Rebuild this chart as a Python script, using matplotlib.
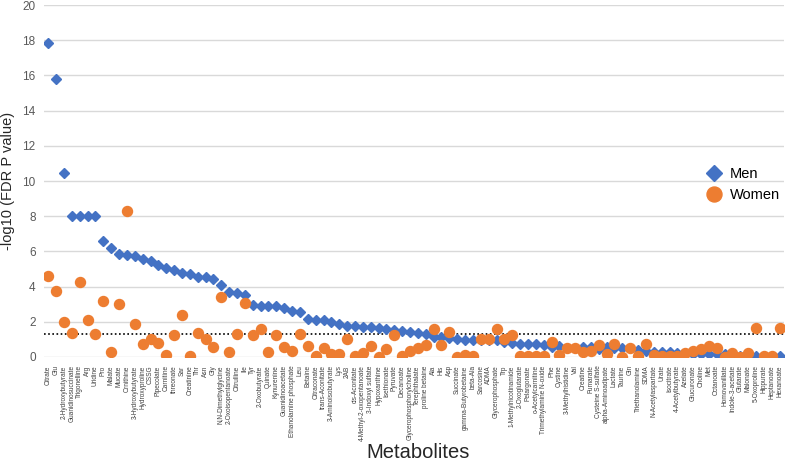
import matplotlib
matplotlib.use("Agg")
import matplotlib.pyplot as plt

plt.rcParams['font.family'] = ['Liberation Sans', 'DejaVu Sans']

metabolites = [
    "Citrate", "Glu", "2-Hydroxybutyrate", "Guanidinosuccinate", "Trigonelline", "Arg",
    "Uridine", "Pro", "Malate", "Mucate", "Ornithine", "3-Hydroxybutyrate",
    "Hydroxyproline", "CSSG", "Pipecolate", "Carnitine", "threonate", "Sar",
    "Creatinine", "Thr", "Asn", "Gly", "N,N-Dimethylglycine", "2-Oxoisopentanoate",
    "Citrulline", "Ile", "Tyr", "2-Oxobutyrate", "Quinate", "Kynurenine",
    "Guanidinoacetate", "Ethanolamine phosphate", "Leu", "Betaine", "Citraconate",
    "trans-Aconitate", "3-Aminoisobutyrate", "Lys", "2AB", "cis-Aconitate",
    "4-Methyl-2-oxopentanoate", "3-Indoxyl sulfate", "Hypoxanthine", "Isethionate",
    "Pyruvate", "Decanoate", "Glycerophosphorylcholine", "Terephthalate",
    "proline betaine", "Ala", "His", "Asp", "Succinate", "gamma-Butyrobetaine",
    "beta-Ala", "Sarcosine", "ADMA", "Glycerophosphate", "Trp", "1-Methylnicotinamide",
    "2-Oxoglutarate", "Pelargonate", "o-Acetylcarnitine", "Trimethylamine N-oxide",
    "Phe", "Cystine", "3-Methylhistidine", "Val", "Creatine", "Fumarate",
    "Cysteine S-sulfate", "alpha-Aminoadipate", "Lactate", "Taurine", "Gln",
    "Triethanolamine", "SDMA", "N-Acetylaspartate", "Urate", "Isocitrate",
    "4-Acetylbutyrate", "Azelate", "Glucuronate", "Choline", "Met", "Octanoate",
    "Homovanillate", "Indole-3-acetate", "Glutarate", "Malonate", "5-Oxoproline",
    "Hippurate", "Heptanoate", "Hexanoate",
]

men = [
    17.85, 15.78, 10.45, 8.0, 8.0, 8.0, 8.0, 6.6, 6.21, 5.83, 5.78, 5.76,
    5.55, 5.45, 5.23, 5.06, 4.96, 4.75, 4.72, 4.56, 4.53, 4.41, 4.07, 3.69,
    3.62, 3.52, 2.94, 2.92, 2.92, 2.88, 2.78, 2.61, 2.56, 2.14, 2.12, 2.10,
    2.01, 1.89, 1.78, 1.76, 1.69, 1.69, 1.63, 1.59, 1.55, 1.48, 1.42, 1.34,
    1.31, 1.14, 1.12, 1.06, 1.02, 0.98, 0.97, 0.98, 0.98, 0.97, 0.85, 0.81,
    0.74, 0.74, 0.72, 0.70, 0.59, 0.64, 0.53, 0.53, 0.55, 0.55, 0.45, 0.55,
    0.49, 0.49, 0.53, 0.42, 0.34, 0.30, 0.30, 0.27, 0.23, 0.21, 0.19, 0.17,
    0.15, 0.15, 0.15, 0.08, 0.08, 0.05, 0.04, 0.04, 0.04, 0.03,
]

women = [
    4.60, 3.73, 1.97, 1.38, 4.24, 2.08, 1.31, 3.16, 0.30, 3.03, 8.31, 1.88,
    0.72, 1.00, 0.78, 0.09, 1.25, 2.37, 0.04, 1.38, 1.02, 0.57, 3.39, 0.27,
    1.29, 3.05, 1.23, 1.61, 0.30, 1.23, 0.55, 0.34, 1.33, 0.63, 0.04, 0.53,
    0.19, 0.15, 1.04, 0.08, 0.25, 0.61, 0.02, 0.47, 1.27, 0.08, 0.34, 0.53,
    0.66, 1.59, 0.66, 1.40, 0.0, 0.09, 0.04, 1.02, 1.02, 1.59, 1.02, 1.27,
    0.08, 0.08, 0.07, 0.03, 0.84, 0.11, 0.53, 0.53, 0.30, 0.34, 0.69, 0.15,
    0.75, 0.02, 0.50, 0.06, 0.74, 0.10, 0.08, 0.08, 0.08, 0.24, 0.35, 0.44,
    0.62, 0.53, 0.0, 0.23, 0.0, 0.23, 1.65, 0.07, 0.07, 1.65,
]

threshold = 1.3

fig = plt.figure(figsize=(7.91, 4.63), dpi=100)
ax = fig.add_axes([0.0556, 0.229, 0.935, 0.760])

x = list(range(len(metabolites)))
ax.plot(x, men, linestyle='none', marker='D', markersize=5.6,
        color='#4472C4', label='Men', zorder=3)
ax.plot(x, women, linestyle='none', marker='o', markersize=7.2,
        color='#ED7D31', label='Women', zorder=3)
ax.axhline(threshold, color='black', linestyle=(0, (1, 1.5)), linewidth=1.2, zorder=2)

ax.set_xlim(-0.55, 93.5)
ax.set_ylim(0, 20)
ax.set_yticks(range(0, 21, 2))
ax.yaxis.grid(True, color='#D9D9D9', linewidth=1)
ax.set_axisbelow(True)
for s in ax.spines.values():
    s.set_visible(False)

ax.set_xticks(x)
ax.set_xticklabels(metabolites, rotation=90, fontsize=4.7, color='#404040')
ax.tick_params(axis='both', length=0)
ax.tick_params(axis='x', pad=6)
ax.tick_params(axis='y', labelsize=8.5, labelcolor='#595959', pad=6)

ax.set_ylabel('-log10 (FDR P value)', fontsize=10.5, color='#262626', labelpad=5)
fig.text(0.528, 0.01, 'Metabolites', fontsize=14.5, ha='center', va='baseline', color='#262626')

ax.legend(loc='center left', bbox_to_anchor=(0.878, 0.49), frameon=False,
          fontsize=10.5, markerscale=1.5, handletextpad=0.6, labelspacing=0.5,
          handlelength=1.0)

fig.savefig('out.png', dpi=100)
